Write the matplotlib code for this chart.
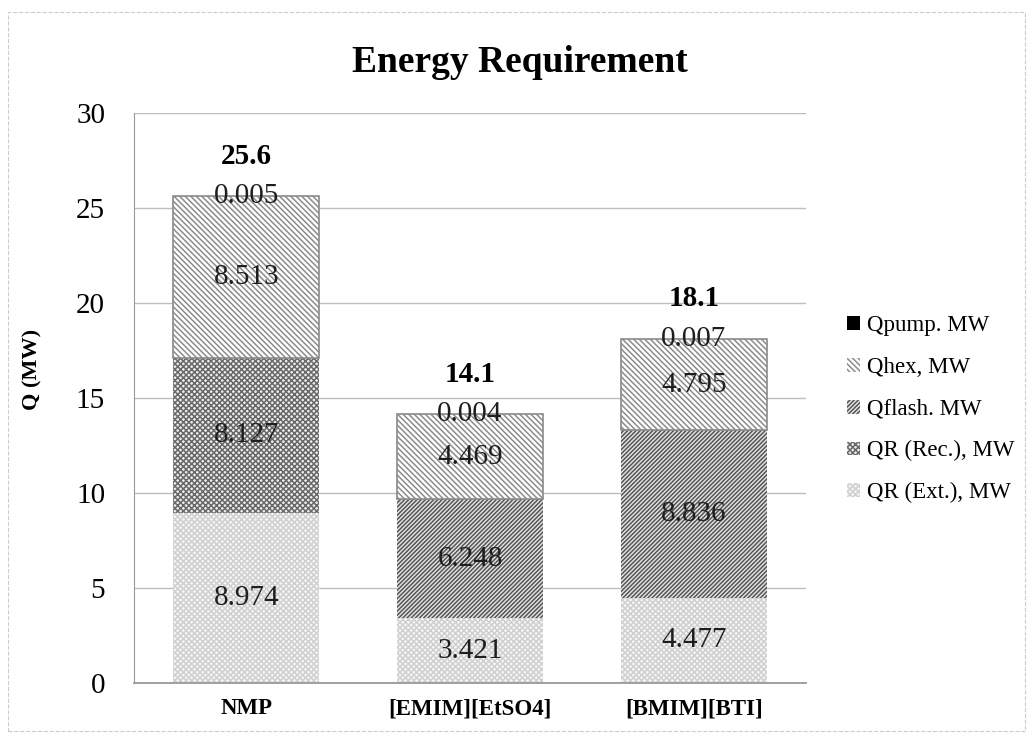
import numpy as np
import matplotlib.pyplot as plt
from matplotlib.patches import Rectangle

plt.rcParams['font.family'] = ['Liberation Serif', 'DejaVu Serif']
plt.rcParams['hatch.linewidth'] = 1.1

# data
solvents = ["NMP", "[EMIM][EtSO4]", "[BMIM][BTI]"]
qr_ext = [8.974, 3.421, 4.477]
qr_rec = [8.127, 0.0, 0.0]
qflash = [0.0, 6.248, 8.836]
qhex = [8.513, 4.469, 4.795]
qpump = [0.005, 0.004, 0.007]
totals = ["25.6", "14.1", "18.1"]

series = [
    ("QR (Ext.), MW", qr_ext, dict(color="#f6f6f6", edgecolor="#d0d0d0", hatch="x" * 6), False),
    ("QR (Rec.), MW", qr_rec, dict(color="#ededed", edgecolor="#686868", hatch="x" * 6), False),
    ("Qflash. MW", qflash, dict(color="#e6e6e6", edgecolor="#555555", hatch="/" * 8), False),
    ("Qhex, MW", qhex, dict(color="#ffffff", edgecolor="#8c8c8c", hatch="\\" * 6), True),
    ("Qpump. MW", qpump, dict(color="black", edgecolor="black", hatch=None), False),
]

fig = plt.figure(figsize=(10.33, 7.35), dpi=100)
ax = fig.add_axes([0.130, 0.0707, 0.650, 0.7756])

x = np.arange(len(solvents))
w = 0.65
bottom = np.zeros(len(solvents))
handles = []
for name, vals, style, outline in series:
    vals = np.array(vals)
    b = ax.bar(x, vals, w, bottom=bottom, color=style["color"], edgecolor=style["edgecolor"],
               hatch=style["hatch"], linewidth=0, label=name, zorder=2)
    if outline:
        for i, v in enumerate(vals):
            if v > 0:
                ax.add_patch(Rectangle((x[i] - w / 2, bottom[i]), w, v, fill=False,
                                       edgecolor="#8a8a8a", linewidth=1.2, zorder=3))
    for i, v in enumerate(vals):
        if v > 0:
            ax.text(x[i], bottom[i] + v / 2, f"{v:.3f}", ha="center", va="center",
                    fontsize=21, color="#1e1e1e", zorder=4)
    handles.append(b)
    bottom += vals

for i, t in enumerate(totals):
    ax.text(x[i], bottom[i] + 2.1, t, ha="center", va="center", fontsize=21,
            fontweight="bold", zorder=4)

ax.set_ylim(0, 30)
ax.set_xlim(-0.5, 2.5)
ax.set_yticks(range(0, 31, 5))
ax.yaxis.grid(True, color="#bdbdbd", linewidth=1.0)
ax.set_axisbelow(True)
for s in ["top", "right"]:
    ax.spines[s].set_visible(False)
ax.spines["left"].set_color("#999999")
ax.spines["bottom"].set_color("#999999")
ax.spines["bottom"].set_linewidth(1.3)
ax.tick_params(axis="y", length=0, pad=21, labelsize=21)
ax.tick_params(axis="x", length=0, pad=11)
ax.set_xticks(x)
ax.set_xticklabels(solvents, fontsize=16.5, fontweight="bold")
ax.set_ylabel("Q (MW)", fontsize=16, fontweight="bold")
ax.yaxis.set_label_coords(-0.137, 0.55)

fig.text(0.503, 0.915, "Energy Requirement", ha="center", va="center",
         fontsize=27, fontweight="bold")

leg = ax.legend(handles[::-1], [s[0] for s in series][::-1], loc="center left",
                bbox_to_anchor=(1.031, 0.48), frameon=False, fontsize=16.5,
                handlelength=0.55, handleheight=0.55, handletextpad=0.3, labelspacing=0.9)

fig.add_artist(Rectangle((0.008, 0.005), 0.984, 0.978, transform=fig.transFigure,
                         fill=False, edgecolor="#cccccc", linewidth=0.8, linestyle="--"))

fig.savefig("out.png", dpi=100)
